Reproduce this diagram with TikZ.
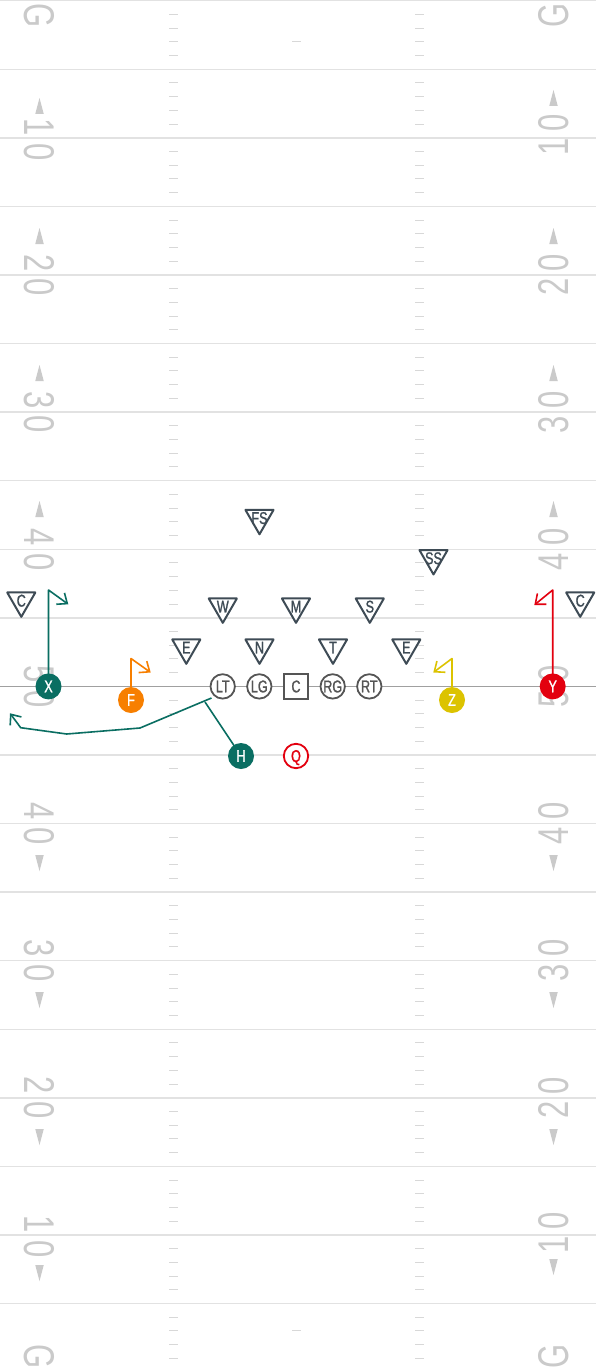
\documentclass[tikz,border=0pt]{standalone}
\usepackage{fontspec}
\setmainfont{Liberation Sans}
\newfontfamily\numfont{Liberation Sans}[FakeStretch=0.72]
\newfontfamily\pfont{Liberation Sans}[FakeStretch=0.74,FakeBold=1.2]
\usetikzlibrary{shapes.geometric,arrows.meta}
\definecolor{yardline}{HTML}{E2E2E2}
\definecolor{hashc}{HTML}{D8D8D8}
\definecolor{numc}{HTML}{CACACA}
\definecolor{losc}{HTML}{A0A0A0}
\definecolor{olc}{HTML}{555555}
\definecolor{defc}{HTML}{3E4B55}
\definecolor{tealc}{HTML}{0A6E62}
\definecolor{orangec}{HTML}{F77F00}
\definecolor{yellowc}{HTML}{DCC300}
\definecolor{redc}{HTML}{E3000F}
\newcommand\tlab[1]{\smash{\makebox[0pt]{\raisebox{-0.5\height}{#1}}}}
\newcommand\yn[2]{#1\kern7.5pt#2}
\pgfdeclarelayer{field}
\pgfdeclarelayer{routes}
\pgfsetlayers{field,routes,main}
\begin{document}
\begin{tikzpicture}[x=1pt,y=-1pt,
  yard/.style={draw=yardline,line width=1.5pt},
  hashmark/.style={draw=hashc,line width=1pt},
  numlbl/.style={text=numc,inner sep=0pt,font=\numfont\fontsize{43}{43}\selectfont},
  yardarrow/.style={fill=numc,draw=none},
  plab/.style={font=\pfont\fontsize{17}{17}\selectfont},
  olman/.style={circle,minimum size=24.4pt,inner sep=0pt,draw=olc,line width=1.8pt,fill=white,text=olc,plab},
  olsq/.style={rectangle,minimum size=24.4pt,inner sep=0pt,draw=olc,line width=1.8pt,fill=white,text=olc,plab},
  skill/.style={circle,minimum size=26pt,inner sep=0pt,fill=#1,text=white,plab},
  skillo/.style={circle,minimum size=24.4pt,inner sep=0pt,draw=#1,line width=1.8pt,fill=white,text=#1,plab},
  deftri/.style={regular polygon,regular polygon sides=3,shape border rotate=180,minimum size=32.5pt,inner sep=0pt,draw=defc,line width=2pt,line join=round,fill=white,text=defc,plab},
  route/.style={draw=#1,line width=1.6pt,line join=round},
  tip/.style={-{Straight Barb[length=8.5pt,width=14pt,line width=1.6pt]}}
]
\useasboundingbox (0,0) rectangle (596,1370);

\begin{pgfonlayer}{field}
  \fill[white] (0,0) rectangle (596,1370);
  % yard lines
  \foreach \k in {0,...,19}{
    \draw[yard] (0,{0.7+68.57*\k}) -- (596,{0.7+68.57*\k});
  }
  % hash marks
  \foreach \k in {0,...,19}{
    \foreach \j in {1,...,4}{
      \pgfmathsetmacro\yy{0.7+68.57*\k+13.714*\j}
      \draw[hashmark] (169,\yy) -- (178,\yy) (415,\yy) -- (424,\yy);
    }
  }
  % PAT ticks
  \draw[hashmark] (292,41.8) -- (301,41.8);
  \draw[hashmark] (292,1330.9) -- (301,1330.9);
  % line of scrimmage
  \draw[draw=losc,line width=1.5pt] (0,686.4) -- (596,686.4);

  % left numbers (rotate -90)
  \node[numlbl,rotate=-90] (gl1) at (39.5,15.5) {G};
  \node[numlbl,rotate=-90] (nl10a) at (39.5,139.5) {\yn10};
  \node[numlbl,rotate=-90] (nl20a) at (39.5,274.98) {\yn20};
  \node[numlbl,rotate=-90] (nl30a) at (39.5,412.12) {\yn30};
  \node[numlbl,rotate=-90] (nl40a) at (39.5,549.26) {\yn40};
  \node[numlbl,rotate=-90] (nl50) at (39.5,686.4) {\yn50};
  \node[numlbl,rotate=-90] (nl40b) at (39.5,823.54) {\yn40};
  \node[numlbl,rotate=-90] (nl30b) at (39.5,960.68) {\yn30};
  \node[numlbl,rotate=-90] (nl20b) at (39.5,1097.82) {\yn20};
  \node[numlbl,rotate=-90] (nl10b) at (39.5,1236.5) {\yn10};
  \node[numlbl,rotate=-90] (gl2) at (39.5,1356.5) {G};
  % right numbers (rotate 90)
  \node[numlbl,rotate=90] (gr1) at (553.5,15.5) {G};
  \node[numlbl,rotate=90] (nr10a) at (553.5,135) {\yn10};
  \node[numlbl,rotate=90] (nr20a) at (553.5,274.98) {\yn20};
  \node[numlbl,rotate=90] (nr30a) at (553.5,412.12) {\yn30};
  \node[numlbl,rotate=90] (nr40a) at (553.5,549.26) {\yn40};
  \node[numlbl,rotate=90] (nr50) at (553.5,686.4) {\yn50};
  \node[numlbl,rotate=90] (nr40b) at (553.5,823.54) {\yn40};
  \node[numlbl,rotate=90] (nr30b) at (553.5,960.68) {\yn30};
  \node[numlbl,rotate=90] (nr20b) at (553.5,1097.82) {\yn20};
  \node[numlbl,rotate=90] (nr10b) at (553.5,1233) {\yn10};
  \node[numlbl,rotate=90] (gr2) at (553.5,1356.5) {G};

  % direction arrows: up (top half)
  \foreach \cx/\cy in {39.5/106, 39.5/236, 39.5/373, 39.5/509,
                       553.5/98, 553.5/236, 553.5/373, 553.5/509}{
    \fill[yardarrow] (\cx,\cy-8) -- (\cx-4.25,\cy+8) -- (\cx+4.25,\cy+8) -- cycle;
  }
  % down (bottom half)
  \foreach \cx/\cy in {39.5/863, 39.5/1000, 39.5/1137, 39.5/1273,
                       553.5/863, 553.5/1000, 553.5/1137, 553.5/1267}{
    \fill[yardarrow] (\cx,\cy+8) -- (\cx-4.25,\cy-8) -- (\cx+4.25,\cy-8) -- cycle;
  }
\end{pgfonlayer}

% defense
\node[deftri] (fs) at (259.5,518) {\tlab{FS}};
\node[deftri] (ss) at (433.5,558.2) {\tlab{SS}};
\node[deftri] (cl) at (21.3,600.6) {\tlab{C}};
\node[deftri] (cr) at (580.2,600.6) {\tlab{C}};
\node[deftri] (w) at (222.8,606.6) {\tlab{W}};
\node[deftri] (m) at (296,606.6) {\tlab{M}};
\node[deftri] (s) at (369.8,606.6) {\tlab{S}};
\node[deftri] (el) at (186.3,647.6) {\tlab{E}};
\node[deftri] (n) at (259.5,647.6) {\tlab{N}};
\node[deftri] (t) at (333,647.6) {\tlab{T}};
\node[deftri] (er) at (406.3,647.6) {\tlab{E}};

% offense
\node[olman] (lt) at (222.7,686.4) {\tlab{LT}};
\node[olman] (lg) at (259.3,686.4) {\tlab{LG}};
\node[olsq] (c) at (296,686.4) {\tlab{C}};
\node[olman] (rg) at (332.7,686.4) {\tlab{RG}};
\node[olman] (rt) at (369.3,686.4) {\tlab{RT}};
\node[skill=tealc] (x) at (48.5,686.4) {\tlab{X}};
\node[skill=orangec] (f) at (131,700) {\tlab{F}};
\node[skill=tealc] (h) at (241,756) {\tlab{H}};
\node[skillo=redc] (q) at (296,756) {\tlab{Q}};
\node[skill=yellowc] (z) at (452,700) {\tlab{Z}};
\node[skill=redc] (y) at (552.7,686.4) {\tlab{Y}};

% route points
\coordinate (x1) at (48.5,590);
\coordinate (x2) at (68.3,604.3);
\coordinate (f1) at (131,658.5);
\coordinate (f2) at (150.7,672.5);
\coordinate (z1) at (452,658.5);
\coordinate (z2) at (433.3,672.5);
\coordinate (y1) at (552.7,590);
\coordinate (y2) at (534.3,605);
\coordinate (h1) at (205,702);
\coordinate (h2) at (211.5,698);
\coordinate (h3) at (140,728);
\coordinate (h4) at (66.7,734);
\coordinate (h5) at (20.7,727.7);
\coordinate (h6) at (10,713.3);

\begin{pgfonlayer}{routes}
  \draw[route=tealc,tip] (x.center) -- (x1) -- (x2);
  \draw[route=orangec,tip] (f.center) -- (f1) -- (f2);
  \draw[route=yellowc,tip] (z.center) -- (z1) -- (z2);
  \draw[route=redc,tip] (y.center) -- (y1) -- (y2);
  \draw[route=tealc] (h.center) -- (h1);
  \draw[route=tealc,tip] (h2) -- (h3) -- (h4) -- (h5) -- (h6);
\end{pgfonlayer}
\end{tikzpicture}
\end{document}
